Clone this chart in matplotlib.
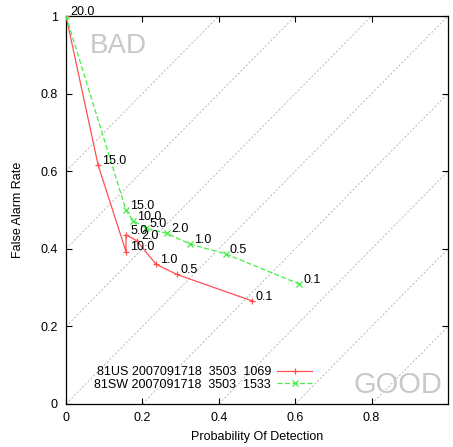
import numpy as np
import matplotlib
matplotlib.use('Agg')
import matplotlib.pyplot as plt

plt.rcParams['font.family'] = ['Liberation Sans', 'DejaVu Sans']

# threshold labels along each curve
thresholds = ['20.0', '15.0', '10.0', '5.0', '2.0', '1.0', '0.5', '0.1']

# 81US: probability of detection / false alarm rate
us_pod = [0.0, 0.084, 0.157, 0.157, 0.185, 0.236, 0.290, 0.486]
us_far = [1.0, 0.616, 0.393, 0.436, 0.421, 0.360, 0.334, 0.266]

# 81SW
sw_pod = [0.0, 0.157, 0.176, 0.209, 0.264, 0.325, 0.418, 0.611]
sw_far = [1.0, 0.500, 0.472, 0.453, 0.440, 0.412, 0.387, 0.309]

us_name = '81US 2007091718  3503  1069'
sw_name = '81SW 2007091718  3503  1533'

# offsets of the diagonal reference lines (y = x + c)
diag_offsets = [0.6, 0.4, 0.2, 0.0, -0.2, -0.4, -0.6, -0.8]

fig = plt.figure(figsize=(4.53, 4.47), dpi=100)
ax = fig.add_axes([0.1457, 0.0962, 0.8433, 0.868])

xs = np.array([0.0, 1.0])
for c in diag_offsets:
    ax.plot(xs, xs + c, color='#b8b8b8', lw=0.7, ls=(0, (2, 2)), zorder=1)

ax.plot(us_pod, us_far, color='#ff5050', lw=0.9, marker='+', ms=5,
        mew=0.9, label=us_name, zorder=3)
ax.plot(sw_pod, sw_far, color='#44ee44', lw=0.9, ls=(0, (4, 2)), marker='x',
        ms=4, mew=0.9, label=sw_name, zorder=3)

# annotate thresholds
for i, t in enumerate(thresholds):
    ax.annotate(t, (us_pod[i], us_far[i]), xytext=(3, 3),
                textcoords='offset points', fontsize=9, va='center')
    if i > 0:
        ax.annotate(t, (sw_pod[i], sw_far[i]), xytext=(3, 3),
                    textcoords='offset points', fontsize=9, va='center')

ax.text(0.063, 0.923, 'BAD', fontsize=20, color='#c8c8c8', va='center')
ax.text(0.984, 0.049, 'GOOD', fontsize=21, color='#c8c8c8', va='center', ha='right')

ax.set_xlim(0, 1)
ax.set_ylim(0, 1)
ax.set_xticks([0, 0.2, 0.4, 0.6, 0.8])
ax.set_xticklabels(['0', '0.2', '0.4', '0.6', '0.8'])
ax.set_yticks([0, 0.2, 0.4, 0.6, 0.8, 1.0])
ax.set_yticklabels(['0', '0.2', '0.4', '0.6', '0.8', '1'])
ax.tick_params(direction='in', length=4, width=0.8, labelsize=9,
               top=True, right=True, pad=6)
for s in ax.spines.values():
    s.set_linewidth(0.9)

ax.set_xlabel('Probability Of Detection', fontsize=9, labelpad=5)
ax.set_ylabel('False Alarm Rate', fontsize=9, labelpad=12)

ax.legend(loc='lower left', bbox_to_anchor=(0.045, 0.005), frameon=False,
          markerfirst=False, fontsize=9, handlelength=2.8,
          labelspacing=0.05, handletextpad=0.5)

fig.savefig('out.png', dpi=100)
